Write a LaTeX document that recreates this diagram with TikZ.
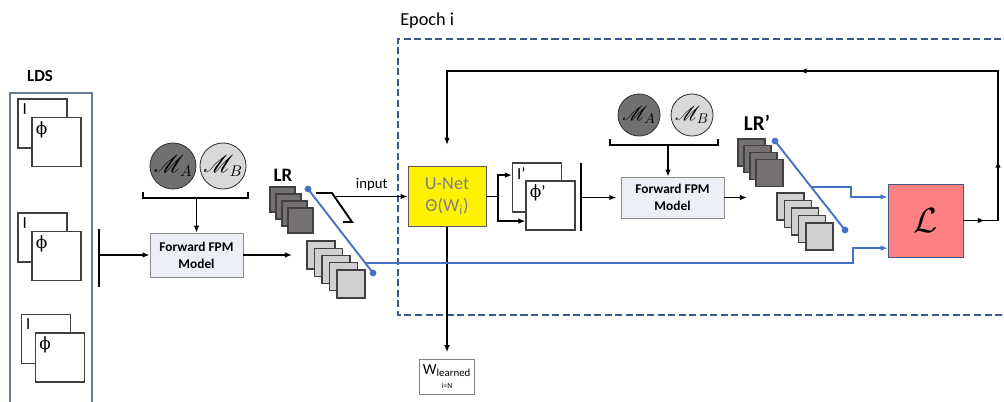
\documentclass[tikz,border=0pt]{standalone}
\usepackage{fontspec}
\setmainfont{Carlito}
\newfontfamily\phifont{DejaVu Serif}
\usepackage{amsmath}
\usepackage{mathrsfs}
\usetikzlibrary{positioning,arrows.meta,calc,decorations.markings}

\definecolor{epochblue}{RGB}{60,88,140}
\definecolor{ldsframe}{RGB}{105,122,150}
\definecolor{wireblue}{RGB}{68,114,196}
\definecolor{carddark}{RGB}{118,113,113}
\definecolor{cardlight}{RGB}{208,206,206}
\definecolor{modA}{RGB}{112,112,112}
\definecolor{modB}{RGB}{217,217,217}
\definecolor{fpmfill}{RGB}{236,239,245}
\definecolor{lossred}{RGB}{255,128,128}

\begin{document}
\begin{tikzpicture}[x=0.025cm, y=-0.025cm, >={Latex[length=5pt,width=4pt]}]
        \tikzstyle{every node}=[inner sep=0pt]
        \tikzstyle{wire}=[line width=1.35pt]
        \tikzstyle{bluewire}=[line width=1.35pt, wireblue]
        \tikzstyle{bar}=[line width=2pt]
        \tikzstyle{imgbox}=[draw=black!75, fill=white, line width=0.8pt, minimum size=1.225cm]
        \tikzstyle{lbl}=[anchor=north west, inner sep=3.5pt, font=\fontsize{12}{13}\selectfont]
        \tikzstyle{card}=[draw=black!75, line width=0.8pt, minimum size=0.625cm]
        \tikzstyle{circ}=[circle, draw=black!80, line width=0.6pt]
        \tikzstyle{fpm}=[draw=black!45, fill=fpmfill, line width=0.6pt, align=center,
                         font=\bfseries\fontsize{9.5}{12}\selectfont]
        \tikzstyle{midarrow}=[postaction={decorate},
                              decoration={markings, mark=at position #1 with {\arrow{>}}}]

        \useasboundingbox (0,0) rectangle (1004,401);

        % low-res data set
        \node (lds) [font=\bfseries\fontsize{12}{14}\selectfont] at (40,76) {LDS};
        \draw[ldsframe, line width=0.8pt] (10,405) |- (92,93) -- (92,405);
        \foreach \n/\x/\y in {1/42.5/123.5, 2/42.5/237.5, 3/46/339} {
            \node (amp\n) [imgbox, label={[lbl]north west:I}] at (\x,\y) {};
            \node (pha\n) [imgbox, label={[lbl, inner sep=3pt]north west:{\phifont ϕ}}] at (\x+14,\y+18.5) {};
        }
        \draw[bar] (99,229) -- (99,287);
        \coordinate (bar1) at (99,255);

        % first forward model
        \node (fpm1) [fpm, minimum width=2.325cm, minimum height=1.1cm] at (196.5,255) {Forward FPM\\Model};
        \node (ma1) [circ, fill=modA, minimum size=1.15cm, font=\fontsize{16}{17}\selectfont] at (173,166) {$\mathscr{M}_A$};
        \node (mb1) [circ, fill=modB, minimum size=1.15cm, font=\fontsize{16}{17}\selectfont] at (223,166) {$\mathscr{M}_B$};
        \draw[wire] (143,192) |- (248,198) -- (248,192);
        \coordinate (brace1) at (196.5,198);
        \draw[wire, ->] (brace1) -- (fpm1);
        \draw[wire, ->] (bar1) -- (fpm1) ;
        \coordinate (lrin) at (292,255);
        \draw[wire, ->] (fpm1) -- (lrin);

        % LR stacks
        \node (lr) [font=\bfseries\fontsize{13.5}{15}\selectfont] at (283,175) {LR};
        \foreach \i in {0,...,3}
            \node (lrd\i) [card, fill=carddark] at (282.5+6*\i, 199.5+7*\i) {};
        \foreach \i in {0,...,4}
            \node (lrl\i) [card, fill=cardlight, minimum size=0.7cm] at (321+7.5*\i, 255+7.25*\i) {};

        % switch 1
        \coordinate (sw1a) at (308,189);
        \coordinate (sw1b) at (373,273);
        \coordinate (sw1m) at ($(sw1a)!0.88!(sw1b)$);
        \draw[bluewire] (sw1a) -- (sw1b);
        \fill[wireblue] (sw1a) circle (2.4pt) (sw1b) circle (2.4pt);
        \draw[wire] (316,193) -- (332,193) -- (352,222) -- (343,222);
        \coordinate (sw0) at (336,196.5);

        % epoch frame
        \draw[epochblue, line width=1.2pt, dash pattern=on 5pt off 2.5pt] (1012,39) -| (398,315) -- (1012,315);
        \node (epoch) [anchor=west, font=\fontsize{13}{15}\selectfont] at (400,21) {Epoch i};

        % network
        \node (unet) [draw=black!65, fill=yellow, line width=0.6pt, minimum width=1.95cm, minimum height=1.5cm,
                      align=center, text=black!50, font=\fontsize{13}{15.5}\selectfont] at (447,196.5)
                      {U-Net\\Θ(W\textsubscript{i})};
        \draw[wire, ->] (sw0) -- node[above=3pt, font=\fontsize{10.5}{12}\selectfont] {input} (unet);

        \node (wl) [draw=black!50, line width=0.6pt, minimum width=1.375cm, minimum height=0.875cm, align=center,
                    font=\fontsize{11}{11}\selectfont] at (447,376.5)
                    {W\textsubscript{learned}\\[-1pt]{\fontsize{5.5}{6}\selectfont i=N}};
        \draw[wire, ->, shorten >=4.5pt] (unet) -- (wl);

        \node (ampp) [imgbox, label={[lbl]north west:I’}] at (537,187.5) {};
        \node (phap) [imgbox, label={[lbl, inner sep=3pt]north west:{\phifont ϕ}’}] at (550.5,205.5) {};
        \coordinate (split) at (498,196.5);
        \draw[wire] (unet) -- (split);
        \draw[wire, ->] (split) |- ([yshift=0.31cm]ampp.west);
        \draw[wire, ->] (split) |- ([yshift=-0.39cm]phap.west);
        \draw[bar] (581,163) -- (581,231);
        \coordinate (bar2) at (581,197.5);

        % second forward model
        \node (fpm2) [fpm, minimum width=2.575cm, minimum height=1.025cm] at (672.5,197.5) {Forward FPM\\Model};
        \node (ma2) [circ, fill=modA, minimum size=1.05cm, font=\fontsize{14.5}{15}\selectfont] at (639,115) {$\mathscr{M}_A$};
        \node (mb2) [circ, fill=modB, minimum size=1.05cm, font=\fontsize{14.5}{15}\selectfont] at (692,115) {$\mathscr{M}_B$};
        \draw[wire] (610,139) |- (718,145) -- (718,139);
        \coordinate (brace2) at (668,145);
        \draw[wire, ->] (brace2) -- (brace2 |- fpm2.north);
        \draw[wire, ->, shorten >=3pt] (bar2) -- (fpm2);
        \coordinate (lrpin) at (747,197.5);
        \draw[wire, ->] (fpm2) -- (lrpin);

        % LR' stacks
        \node (lrp) [font=\bfseries\fontsize{15}{17}\selectfont] at (757,123) {LR’};
        \foreach \i in {0,...,3}
            \node (lrpd\i) [card, fill=carddark, minimum size=0.675cm] at (751.5+6*\i, 152.5+6.7*\i) {};
        \foreach \i in {0,...,4}
            \node (lrpl\i) [card, fill=cardlight, minimum size=0.675cm] at (790.5+7.25*\i, 206.5+7.5*\i) {};

        % switch 2
        \coordinate (sw2a) at (775,141);
        \coordinate (sw2b) at (845,230);
        \coordinate (sw2m) at ($(sw2a)!0.517!(sw2b)$);
        \draw[bluewire] (sw2a) -- (sw2b);
        \fill[wireblue] (sw2a) circle (2.4pt) (sw2b) circle (2.4pt);

        % loss
        \node (loss) [draw=epochblue, fill=lossred, line width=0.6pt, minimum width=1.875cm, minimum height=1.825cm,
                      font=\fontsize{24}{26}\selectfont] at (925.5,220.5) {$\mathcal{L}$};
        \coordinate (k1) at (853,0);
        \coordinate (k2) at (851,0);
        \draw[bluewire, ->] (sw1m) -- (sw1m -| k1) |- ([yshift=-0.69cm]loss.west);
        \draw[bluewire, ->] (sw2m) -- (sw2m -| k2) |- ([yshift=0.59cm]loss.west);

        % feedback to the network
        \coordinate (fbr) at (998,220.5);
        \coordinate (fbt) at (998,71);
        \draw[wire, ->, shorten >=0.53cm] (loss) -- (fbr) -- (fbt) -| (unet.north);
        \draw[wire, midarrow=0.62] (loss.east) -- (fbr);
        \draw[wire, midarrow=0.4] (fbr) -- (fbt);
        \draw[wire, midarrow=0.36] (fbt) -- (fbt -| unet.north);
\end{tikzpicture}
\end{document}
